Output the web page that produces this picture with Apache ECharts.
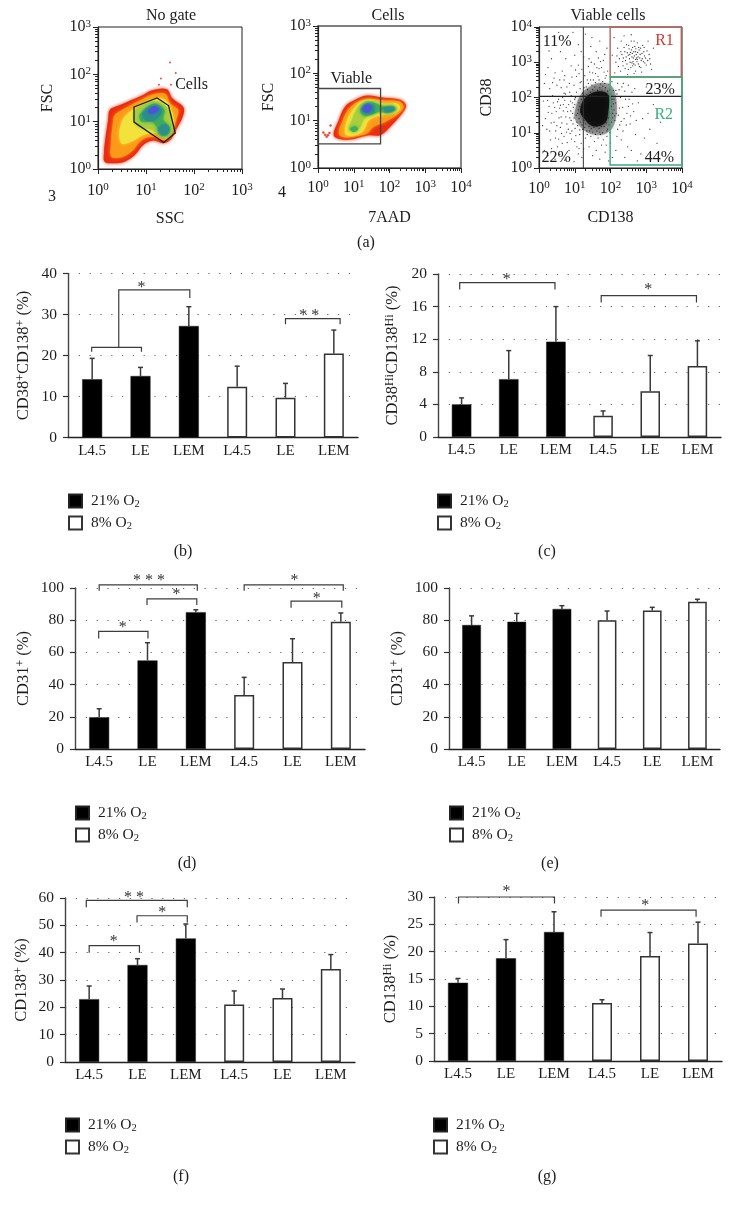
<!DOCTYPE html>
<html><head><meta charset="utf-8">
<style>html,body{margin:0;padding:0;background:#fff}#c{width:732px;height:1210px}</style>
<script src="https://cdn.jsdelivr.net/npm/echarts@6/dist/echarts.min.js"></script>
</head><body><div id="c"></div>
<script>
/* ---------- bar panels: values ---------- */
const categories = ['L4.5','LE','LEM','L4.5','LE','LEM'];
const o2Names = ['21% O2','8% O2'];

const bMean21=[14.2,15,27.2],   bMean8=[12.4,9.7,20.5],  bTop21=[19.3,17.1,31.9], bTop8=[17.4,13.2,26.2];
const cMean21=[4.0,7.1,11.7],   cMean8=[2.6,5.6,8.7],    cTop21=[4.8,10.6,16],    cTop8=[3.2,10,11.8];
const dMean21=[19.7,55,85],     dMean8=[33.5,54,79],     dTop21=[25,66,86.5],     dTop8=[44.5,68.5,84.5];
const eMean21=[77,79,87],       eMean8=[80,86,91.5],     eTop21=[82.7,84.2,89],   eTop8=[85.7,88,93];
const fMean21=[23,35.5,45.2],   fMean8=[21,23.4,34],     fTop21=[27.8,37.8,50.5], fTop8=[26,26.7,39.3];
const gMean21=[14.3,18.8,23.6], gMean8=[10.6,19.2,21.5], gTop21=[15.1,22.2,27.3], gTop8=[11.2,23.5,25.4];

/* significance brackets: paths in (band position, axis value) */
const bBrackets=[[[.49,20.9],[.49,22],[1.52,22],[1.52,20.9]],[[1.05,22],[1.05,36],[2.52,36],[2.52,34]],[[4.5,27.6],[4.5,29],[5.63,29],[5.63,27.6]]];
const bStars=[[1.52,37.3,'*'],[4.99,30.4,'* *']];
const cBrackets=[[[.46,18.1],[.46,18.94],[2.48,18.94],[2.48,18.1]],[[3.46,16.5],[3.46,17.35],[5.48,17.35],[5.48,16.5]]];
const cStars=[[1.46,19.6,'*'],[4.46,18.4,'*']];
const dBrackets=[[[.5,98.3],[.5,102],[2.53,102],[2.53,98.3]],[[1.49,89.4],[1.49,93.2],[2.52,93.2],[2.52,89.4]],[[.49,68.7],[.49,73.1],[1.51,73.1],[1.51,68.7]],[[3.5,98.3],[3.5,102],[5.55,102],[5.55,98.3]],[[4.47,87.8],[4.47,91.9],[5.52,91.9],[5.52,87.8]]];
const dStars=[[1.53,106.6,'* * *'],[2.1,97.7,'*'],[.99,77,'*'],[4.54,106.6,'*'],[5.0,95.2,'*']];
const fBrackets=[[[.44,56.6],[.44,59.1],[2.53,59.1],[2.53,56.6]],[[1.49,51],[1.49,53.5],[2.53,53.5],[2.53,51]],[[.5,40],[.5,42.6],[1.54,42.6],[1.54,40]]];
const fStars=[[1.43,61.1,'* *'],[2.01,55.6,'*'],[1.01,45,'*']];
const gBrackets=[[[.51,28.8],[.51,30],[2.51,30],[2.51,28.8]],[[3.48,26.4],[3.48,27.6],[5.46,27.6],[5.46,26.4]]];
const gStars=[[1.51,31.5,'*'],[4.4,28.9,'*']];

/* ---------- flow plots: outlines given as log10 of the axis values ---------- */
const ssc_red=[[.14,.155],[.126,.367],[.154,.649],[.21,1.037],[.244,1.249],[.419,1.334],[.628,1.426],[.907,1.546],[1.117,1.658],[1.431,1.687],[1.549,1.496],[1.78,1.306],[1.766,1.108],[1.605,.79],[1.521,.628],[1.361,.543],[1.151,.6],[.942,.508],[.768,.296],[.558,.155],[.349,.12]];
const ssc_orange=[[.28,.26],[.27,.54],[.31,.97],[.35,1.14],[.56,1.28],[.84,1.43],[1.12,1.57],[1.4,1.59],[1.5,1.39],[1.67,1.25],[1.64,1.07],[1.52,.76],[1.4,.61],[1.15,.68],[.91,.61],[.7,.37],[.49,.25]];
const ssc_yellow=[[.49,.54],[.45,.83],[.56,1.11],[.84,1.32],[1.15,1.48],[1.4,1.46],[1.55,1.18],[1.57,.9],[1.45,.67],[1.22,.76],[.94,.72],[.7,.58]];
const ssc_lime=[[.77,.97],[.78,1.25],[1.15,1.43],[1.43,1.31],[1.55,.97],[1.52,.72],[1.34,.67],[1.12,.83],[.91,.86]];
const ssc_green=[[.87,1.14],[1.15,1.38],[1.38,1.26],[1.36,1.04],[1.5,.86],[1.45,.72],[1.29,.72],[1.22,.9],[1.12,1.0],[.91,1.0]];
const ssc_tealA=[[.92,1.16],[1.15,1.33],[1.33,1.24],[1.22,1.05],[1.01,1.02]];
const ssc_tealB=[[1.26,.86],[1.4,.95],[1.49,.84],[1.4,.72],[1.29,.76]];
const ssc_blue=[[1.05,1.25],[1.19,1.33],[1.27,1.26],[1.17,1.18],[1.06,1.18]];
const ssc_gate=[[.75,1.31],[1.23,1.5],[1.47,1.34],[1.61,.76],[1.37,.56],[.75,.99]];
const ssc_stray=[[1.5,2.25],[1.62,2.03],[1.31,1.91],[1.52,1.78],[1.27,1.78]];

const aad_red=[[.44,.69],[.58,1.01],[.76,1.3],[1.04,1.44],[1.37,1.53],[1.79,1.49],[2.3,1.44],[2.46,1.32],[2.35,1.15],[2.02,.87],[1.74,.69],[1.42,.69],[1.04,.62],[.67,.6]];
const aad_orange=[[.58,.73],[.69,1.01],[.86,1.25],[1.09,1.39],[1.37,1.46],[1.79,1.43],[2.26,1.41],[2.4,1.3],[2.26,1.15],[1.88,.97],[1.56,.87],[1.37,.73],[1.04,.67],[.72,.65]];
const aad_yellow=[[.75,.76],[.81,1.01],[1,1.25],[1.18,1.39],[1.46,1.44],[1.84,1.36],[2.21,1.36],[2.3,1.27],[2.12,1.15],[1.74,1.11],[1.42,1.01],[1.28,.8],[1.04,.69],[.81,.69]];
const aad_lime=[[.86,.8],[.95,1.01],[1.09,1.25],[1.28,1.39],[1.51,1.41],[1.84,1.32],[2.14,1.31],[2.21,1.23],[1.98,1.16],[1.65,1.16],[1.32,1.06],[1.14,.83]];
const aad_green=[[1.18,1.22],[1.31,1.36],[1.56,1.38],[1.79,1.3],[2.11,1.3],[2.16,1.23],[1.93,1.16],[1.74,1.2],[1.51,1.13],[1.28,1.11]];
const aad_lump=[[.9,.83],[1.04,.88],[1.12,.82],[1,.76]];
const aad_tealA=[[1.23,1.25],[1.37,1.36],[1.56,1.32],[1.56,1.18],[1.32,1.15]];
const aad_tealB=[[1.81,1.27],[2.09,1.29],[2.14,1.23],[1.93,1.18]];
const aad_blue=[[1.25,1.27],[1.4,1.34],[1.51,1.27],[1.4,1.18],[1.28,1.2]];
const aad_gate=[[0,.51],[1.75,.51],[1.75,1.68],[0,1.68]];
const aad_stray=[[.2,.7],[.28,.69],[.35,.9],[.15,.75],[.24,.66],[.32,.74]];

const cd_core=[[1.29,1.99],[1.62,2.17],[1.94,2.08],[1.94,1.61],[1.85,1.28],[1.52,1.18],[1.29,1.37],[1.15,1.61]];
const cd_halo=[[1.01,1.65],[1.2,2.13],[1.66,2.41],[2.04,2.32],[2.18,1.75],[2.08,1.18],[1.8,.95],[1.38,.99],[1.01,1.37]];
const cd_R1=[[1.99,2.58],[3.98,2.58],[3.98,4],[1.99,4]];
const cd_R2=[[1.99,.085],[4,.085],[4,2.58],[1.99,2.58]];
const cd_vline=[[1.24,0],[1.24,4]];
const cd_hline=[[0,2.03],[4,2.03]];
const cd_dots=[
[2.1,3.7],[2.2,3.4],[2.25,3.1],[2.3,3.6],[2.35,2.9],[2.4,3.3],[2.42,3.05],[2.45,3.5],[2.5,2.8],[2.5,3.2],[2.52,3.38],[2.55,3.0],[2.58,3.6],[2.6,3.15],[2.62,2.9],[2.65,3.3],[2.68,3.45],[2.7,2.75],[2.7,3.08],[2.72,3.22],[2.75,3.55],[2.78,2.95],[2.8,3.35],[2.82,3.12],[2.85,2.85],[2.88,3.25],[2.9,3.48],[2.92,3.02],[2.95,3.18],[3.0,2.92],[3.02,3.32],[3.05,3.6],[3.1,3.1],[3.15,2.8],[2.15,3.0],[2.28,2.75],[2.38,3.75],[2.48,2.65],[2.58,3.78],[2.66,2.68],[3.2,3.4],[2.05,3.2],[2.12,2.7],[2.32,3.22],[2.44,3.15],[2.56,3.28],[2.64,3.12],[2.74,3.02],[2.84,3.4],[2.76,3.28],[2.62,3.42],[2.46,2.95],
[2.36,3.12],[2.41,2.82],[2.47,3.27],[2.53,3.1],[2.57,2.85],[2.59,3.35],[2.63,3.02],[2.67,3.18],[2.69,2.92],[2.71,3.38],[2.73,3.12],[2.77,3.15],[2.79,3.42],[2.81,2.88],[2.83,3.22],[2.86,3.05],[2.89,3.1],[2.93,3.3],[2.96,2.98],[2.98,3.12],[2.51,3.48],[2.6,2.98],[2.66,3.6],[2.54,3.22],[2.38,3.42],[2.34,3.02],[2.29,3.3],[2.22,2.88],[2.18,3.18],[3.08,3.22],[3.12,2.95],[3.04,3.05],[2.87,2.72],[2.94,3.42],[2.61,3.25],[2.7,3.3],[2.75,3.08],[2.65,2.95],
[.2,3.6],[.35,3.1],[.45,2.7],[.6,3.3],[.7,2.5],[.8,3.7],[.9,2.9],[1.0,3.2],[1.05,2.6],[1.1,3.5],[1.2,2.8],[1.3,3.8],[1.35,2.5],[1.4,3.1],[1.45,3.45],[1.5,2.7],[1.55,2.95],[1.6,3.3],[1.65,2.6],[1.7,3.6],[1.75,2.85],[1.8,3.05],[1.85,2.55],[1.9,3.4],[1.92,2.75],[.15,2.4],[.25,2.85],[.5,2.35],[.65,2.75],[.85,2.4],[.95,3.85],[1.15,2.42],[1.25,3.15],[1.52,2.5],[1.62,2.85],[1.78,2.45],[1.88,2.62],[.3,2.25],[.55,3.85],[1.48,3.7],
[.42,2.55],[.58,2.5],[.72,2.62],[.78,2.3],[.92,2.58],[1.02,2.78],[1.12,2.68],[1.28,2.62],[1.42,2.72],[1.58,2.68],[1.68,2.82],[1.72,3.02],[1.82,2.72],[.18,2.65],[.38,2.42],[.62,2.28],[.98,2.35],[1.1,2.92],[1.38,2.88],[1.46,3.0],[1.66,3.12],[1.84,3.22],[.28,3.32],[.75,3.1],[1.18,3.3],
[.12,1.9],[.18,1.4],[.22,1.1],[.28,1.75],[.32,.8],[.38,2.05],[.42,1.3],[.48,1.6],[.52,.6],[.55,1.95],[.6,1.15],[.62,1.45],[.68,1.8],[.7,.9],[.74,2.1],[.78,1.25],[.8,1.6],[.84,.5],[.88,1.9],[.9,1.35],[.92,1.05],[.96,1.72],[1.0,.75],[1.02,2.0],[1.04,1.5],[1.08,1.2],[1.1,.4],[1.12,1.85],[1.14,.95],[.15,.5],[.25,.35],[.35,.55],[.45,.25],[.58,.38],[.72,.22],[.85,.3],[.98,.18],[1.12,.55],[.3,1.05],[.4,1.85],[.65,.7],[.75,1.45],[.82,1.1],[.94,1.55],[1.06,.6],[1.16,1.3],[.5,1.2],[.36,1.55],[.58,1.7],[.66,2.0],[.86,2.15],[1.18,.7],[.1,1.2],
[.44,1.72],[.52,1.88],[.56,1.42],[.64,1.28],[.68,1.62],[.72,1.92],[.76,1.72],[.83,1.8],[.86,1.42],[.89,1.62],[.93,1.85],[.95,1.25],[.98,1.42],[1.0,1.95],[1.01,1.12],[.87,.98],[.77,1.02],[.63,.98],[.47,1.05],[.34,1.28],[.26,1.58],[.24,1.92],[.46,.85],[.55,.82],[.79,.72],[.91,.82],[1.03,.92],[.7,2.12],[.9,2.05],[.6,1.78],
[2.2,1.1],[2.25,1.7],[2.3,.8],[2.32,2.3],[2.38,1.4],[2.42,1.95],[2.48,.6],[2.55,1.25],[2.6,2.15],[2.65,1.6],[2.7,.95],[2.78,1.85],[2.85,.4],[2.9,1.4],[3.0,2.3],[3.1,1.1],[3.2,1.8],[3.3,.7],[2.15,.5],[2.05,.3],[2.4,.3],[2.75,.2],[2.1,1.95],[2.2,2.4],[2.35,1.05],[2.5,1.75],[2.58,.5],[2.95,.85],[3.05,1.55],[3.4,1.3],[2.28,2.0],[2.18,.9],[2.12,1.35],
[2.24,2.22],[2.34,1.72],[2.4,2.18],[2.46,1.55],[2.52,1.95],[2.56,1.48],[2.62,1.82],[2.68,2.25],[2.72,1.35],[2.16,1.55],[2.3,1.32],[2.36,2.4],[2.26,1.22],[2.44,1.22],[2.5,2.35],
[1.3,.85],[1.4,.6],[1.45,.9],[1.5,.35],[1.55,.75],[1.6,.5],[1.65,.85],[1.7,.25],[1.75,.65],[1.8,.8],[1.85,.45],[1.9,.9],[1.95,.2],[2.0,.7],[1.35,.95],[1.25,.55],[1.2,.3],[1.58,.95],[1.88,.65],[1.72,.95],
[1.0,1.8],[1.05,2.15],[1.1,1.65],[1.15,2.25],[1.18,2.45],[1.22,1.1],[1.25,2.05],[1.28,1.15],[1.32,2.3],[1.38,2.4],[1.42,1.05],[1.44,2.5],[1.58,2.42],[1.62,1.05],[1.68,2.5],[1.72,2.38],[1.78,1.0],[1.84,2.4],[1.92,1.1],[1.96,2.38],[2.02,1.3],[2.04,2.45],[2.06,1.55],[2.08,2.2],[2.1,1.65],[2.14,1.85],[2.18,2.1],[2.22,1.5],[1.98,1.0],[2.0,2.52],
[1.08,1.55],[1.12,1.4],[1.14,1.75],[1.18,1.95],[1.2,1.22],[1.22,2.12],[1.24,1.6],[1.26,1.35],[1.3,1.25],[1.34,2.08],[1.36,2.22],[1.4,1.18],[1.44,2.15],[1.46,1.12],[1.5,2.22],[1.54,1.15],[1.56,2.3],[1.6,1.18],[1.64,2.2],[1.68,1.12],[1.7,2.28],[1.74,1.18],[1.76,2.18],[1.82,1.18],[1.86,2.28],[1.88,1.28],[1.92,2.18],[1.94,1.42],[1.97,1.9],[1.99,1.55],[2.0,2.1],[2.02,1.75],[2.04,1.95],[2.06,1.42],[2.08,1.82],[1.96,1.22],[1.9,1.05],[1.7,1.02],[1.5,1.02],[1.34,1.05],[1.14,1.08],[1.06,1.3],[1.16,1.58],[1.28,1.82],[1.98,2.22],[1.78,2.32],[1.48,2.35],[1.26,2.28],[2.12,1.48],[2.15,2.2]
];

/* ---------- text ---------- */
const panelCaptions=[['(a)',366,243],['(b)',183,552],['(c)',547,552],['(d)',187,864],['(e)',550,864],['(f)',181,1177],['(g)',547,1177]];
const flowTitles=[['No gate',171,16],['Cells',388,16],['Viable cells',608,16]];
const strayMarks=[['3',52,197],['4',282,193]];

/* ---------- assembly ---------- */
const SERIF='"Liberation Serif","Times New Roman",serif', INK='#1c1c1c';
const grids=[],xAxes=[],yAxes=[],series=[],legends=[],titles=[];
const supRich={s:{fontFamily:SERIF,fontSize:11,color:INK,verticalAlign:'top',lineHeight:17,padding:[0,0,7,0]},n:{fontFamily:SERIF,fontSize:16,color:INK,lineHeight:17}};

function barPanel(o){
  const gi=grids.length, xi=xAxes.length, yi=yAxes.length;
  grids.push({left:o.left,top:o.top,width:o.w,height:o.h});
  xAxes.push({type:'category',gridIndex:gi,data:categories,axisTick:{show:false},
    axisLine:{lineStyle:{color:'#222',width:1.4}},
    axisLabel:{fontFamily:SERIF,fontSize:15,color:INK,margin:6,interval:0},splitLine:{show:false}});
  xAxes.push({type:'value',gridIndex:gi,min:0,max:6,show:false});
  yAxes.push({type:'value',gridIndex:gi,min:0,max:o.max,interval:o.step,
    name:o.name,nameLocation:'middle',nameGap:o.gap,nameRotate:90,
    nameTextStyle:{fontFamily:SERIF,fontSize:16.5,color:INK,rich:{s:{fontFamily:SERIF,fontSize:12,color:INK,verticalAlign:'top',lineHeight:18}}},
    axisLine:{show:true,lineStyle:{color:'#444',width:1.4}},
    axisTick:{show:true,length:5,lineStyle:{color:'#333',width:1.2}},
    axisLabel:{fontFamily:SERIF,fontSize:15.5,color:INK,margin:11},
    splitLine:{show:true,lineStyle:{color:'#666',width:1.2,type:[1.2,9.6]}}});
  const pad=(a,first)=>first?[...a,null,null,null]:[null,null,null,...a];
  series.push({type:'bar',name:o2Names[0],xAxisIndex:xi,yAxisIndex:yi,data:pad(o.m21,true),barWidth:o.bar,barGap:'-100%',
    itemStyle:{color:'#000',borderColor:'#222',borderWidth:.5},z:2});
  series.push({type:'bar',name:o2Names[1],xAxisIndex:xi,yAxisIndex:yi,data:pad(o.m8,false),barWidth:o.bar,barGap:'-100%',
    itemStyle:{color:'#fff',borderColor:'#333',borderWidth:1.5},z:2});
  const errs=[];
  o.m21.forEach((v,i)=>errs.push([i,o.t21[i],v]));
  o.m8.forEach((v,i)=>errs.push([i+3,o.t8[i],v]));
  series.push({type:'custom',xAxisIndex:xi,yAxisIndex:yi,z:3,silent:true,data:errs,encode:{x:0,y:[1,2]},
    renderItem(p,api){
      const a=api.coord([api.value(0),api.value(1)]),b=api.coord([api.value(0),api.value(2)]);
      const st={stroke:'#3a3a3a',lineWidth:1.5,fill:'none'};
      return {type:'group',children:[
        {type:'line',shape:{x1:a[0],y1:a[1],x2:b[0],y2:b[1]},style:st},
        {type:'line',shape:{x1:a[0]-2.5,y1:a[1],x2:a[0]+2.5,y2:a[1]},style:st}]};
    }});
  if(o.br){
    series.push({type:'custom',xAxisIndex:xi+1,yAxisIndex:yi,z:4,silent:true,clip:false,data:o.br.map(b=>b[1]),encode:{x:0,y:1},
      renderItem(p,api){
        const pts=o.br[p.dataIndex].map(q=>api.coord(q));
        return {type:'polyline',shape:{points:pts},style:{stroke:'#3c3c3c',lineWidth:1.2,fill:'none'}};
      }});
    series.push({type:'custom',xAxisIndex:xi+1,yAxisIndex:yi,z:4,silent:true,clip:false,data:o.st.map(s=>[s[0],s[1]]),encode:{x:0,y:1},
      renderItem(p,api){
        const s=o.st[p.dataIndex],c=api.coord([s[0],s[1]]);
        return {type:'text',x:c[0],y:c[1]+3,style:{text:s[2],font:'16px '+SERIF,fill:'#333',align:'center',verticalAlign:'middle'}};
      }});
  }
  legends.push({data:o2Names,left:o.left0,top:o.ltop,padding:0,orient:'vertical',itemWidth:13,itemHeight:13,itemGap:5,selectedMode:false,icon:'rect',
    formatter:n=>n.replace('O2','O{u|2}'),
    textStyle:{fontFamily:SERIF,fontSize:15.5,color:INK,padding:[0,0,0,4],rich:{u:{fontFamily:SERIF,fontSize:10.5,color:INK,verticalAlign:'bottom',lineHeight:18}}}});
}

const logFmt=v=>'{n|10}{s|'+Math.round(Math.log10(v))+'}';
const P=q=>[Math.pow(10,q[0]),Math.pow(10,q[1])];
function flowPanel(o){
  const gi=grids.length,xi=xAxes.length,yi=yAxes.length;
  grids.push({left:o.left,top:o.top,width:o.w,height:o.h,show:true,borderColor:o.frame||'#222',borderWidth:o.frameW||1,backgroundColor:'#fff'});
  const ax=(max,name,gap,rot,margin)=>({type:'log',logBase:10,gridIndex:gi,min:1,max:max,
    name:name,nameLocation:'middle',nameGap:gap,nameRotate:rot,
    nameTextStyle:{fontFamily:SERIF,fontSize:16,color:INK},
    axisLine:{show:true,lineStyle:{color:'#222',width:1.2}},
    axisTick:{show:true,length:5,lineStyle:{color:'#222',width:1}},
    minorTick:{show:true,length:3,splitNumber:9,lineStyle:{color:'#222',width:1}},
    splitLine:{show:false},minorSplitLine:{show:false},
    axisLabel:{formatter:logFmt,rich:supRich,margin:margin}});
  xAxes.push(ax(o.xmax,o.xname,o.xgap,0,o.xm)); yAxes.push(ax(o.ymax,o.yname,o.ygap,90,7));
  const base={xAxisIndex:xi,yAxisIndex:yi,silent:true};
  if(o.fills){
    series.push({...base,type:'custom',z:2,data:o.fills.map(f=>P(f[0][0])),encode:{x:0,y:1},renderItem(p,api){
      const f=o.fills[p.dataIndex];
      return {type:'polygon',shape:{points:f[0].map(q=>api.coord(P(q))),smooth:.35},style:{fill:f[1],shadowBlur:f[2]||3.5,shadowColor:f[1]}};
    }});
  }
  if(o.dots) series.push({...base,type:'scatter',z:3,symbolSize:o.dotSize,data:o.dots.map(P),itemStyle:{color:o.dotColor,opacity:.85}});
  if(o.lines){
    series.push({...base,type:'custom',z:4,data:o.lines.map(l=>P(l[0][0])),encode:{x:0,y:1},renderItem(p,api){
      const l=o.lines[p.dataIndex],pts=l[0].map(q=>api.coord(P(q)));
      return l[3]?{type:'polygon',shape:{points:pts},style:{fill:'none',stroke:l[1],lineWidth:l[2]}}
                 :{type:'polyline',shape:{points:pts},style:{fill:'none',stroke:l[1],lineWidth:l[2]}};
    }});
  }
  if(o.notes){
    series.push({...base,type:'custom',z:5,data:o.notes.map(n=>P([n[1],n[2]])),encode:{x:0,y:1},renderItem(p,api){
      const n=o.notes[p.dataIndex],c=api.coord(P([n[1],n[2]]));
      return {type:'text',x:c[0],y:c[1],style:{text:n[0],font:'16px '+SERIF,fill:n[3]||INK,align:'center',verticalAlign:'middle'}};
    }});
  }
}

const RED='#ea2d10',ORG='#fb9a18',YEL='#f4e23c',LIM='#a9cf3e',GRN='#3fae5c',TEA='#2c8f8a',BLU='#4a55d8';
flowPanel({left:98,top:27,w:144,h:142,xmax:1000,ymax:1000,xname:'SSC',yname:'FSC',xgap:42,ygap:42,xm:13,
  fills:[[ssc_red,RED],[ssc_orange,ORG],[ssc_yellow,YEL],[ssc_lime,LIM],[ssc_green,GRN],[ssc_tealA,TEA],[ssc_tealB,TEA],[ssc_blue,BLU]],
  dots:ssc_stray,dotSize:2,dotColor:RED,
  lines:[[ssc_gate,'#1a1a1a',1.3,true]],
  notes:[['Cells',1.95,1.78]]});
flowPanel({left:318,top:26,w:143,h:142,xmax:10000,ymax:1000,xname:'7AAD',yname:'FSC',xgap:42,ygap:41,xm:11,frame:'#555',frameW:1.4,
  fills:[[aad_red,RED],[aad_orange,ORG],[aad_yellow,YEL],[aad_lime,LIM],[aad_green,GRN],[aad_lump,GRN],[aad_tealA,TEA],[aad_tealB,TEA],[aad_blue,BLU]],
  dots:aad_stray,dotSize:2.5,dotColor:RED,
  lines:[[aad_gate,'#444',1.3,true]],
  notes:[['Viable',.93,1.89]]});
flowPanel({left:539,top:27,w:143,h:141,xmax:10000,ymax:10000,xname:'CD138',yname:'CD38',xgap:42,ygap:44,xm:12,
  fills:[[cd_halo,'rgba(40,40,40,.42)',6],[cd_core,'rgba(8,8,8,.86)',7]],
  dots:cd_dots,dotSize:1.3,dotColor:'#1a1a1a',
  lines:[[cd_vline,'#333',1],[cd_hline,'#222',1.2],[cd_R1,'#b5645c',1.4,true],[cd_R2,'#3aaa78',1.4,true]],
  notes:[['11%',.51,3.59],['R1',3.51,3.62,'#d8342c'],['23%',3.39,2.22],['R2',3.49,1.51,'#35b07a'],['22%',.48,.28],['44%',3.37,.28]]});

barPanel({left:68,top:273.5,w:290,h:164,max:40,step:10,bar:20,gap:35,name:'CD38{s|+}CD138{s|+} (%)',m21:bMean21,m8:bMean8,t21:bTop21,t8:bTop8,br:bBrackets,st:bStars,left0:68,ltop:493});
barPanel({left:438,top:274,w:283,h:163,max:20,step:4,bar:19.5,gap:36,name:'CD38{s|Hi}CD138{s|Hi} (%)',m21:cMean21,m8:cMean8,t21:cTop21,t8:cTop8,br:cBrackets,st:cStars,left0:437,ltop:493});
barPanel({left:75,top:588,w:290,h:161,max:100,step:20,bar:20,gap:42,name:'CD31{s|+} (%)',m21:dMean21,m8:dMean8,t21:dTop21,t8:dTop8,br:dBrackets,st:dStars,left0:75,ltop:805});
barPanel({left:449,top:588,w:271,h:161,max:100,step:20,bar:18.7,gap:42,name:'CD31{s|+} (%)',m21:eMean21,m8:eMean8,t21:eTop21,t8:eTop8,left0:449,ltop:805});
barPanel({left:65,top:898,w:290,h:164,max:60,step:10,bar:20,gap:34,name:'CD138{s|+} (%)',m21:fMean21,m8:fMean8,t21:fTop21,t8:fTop8,br:fBrackets,st:fStars,left0:65,ltop:1117});
barPanel({left:434,top:897,w:288,h:164,max:30,step:5,bar:20,gap:34,name:'CD138{s|Hi} (%)',m21:gMean21,m8:gMean8,t21:gTop21,t8:gTop8,br:gBrackets,st:gStars,left0:433,ltop:1117});

[...panelCaptions,...flowTitles,...strayMarks].forEach(t=>titles.push({text:t[0],left:t[1],top:t[2],textAlign:'center',textVerticalAlign:'middle',padding:0,
  textStyle:{fontFamily:SERIF,fontSize:16,fontWeight:'normal',color:INK}}));

const chart=echarts.init(document.getElementById('c'),null,{renderer:'canvas'});
chart.setOption({animation:false,backgroundColor:'#fff',title:titles,legend:legends,grid:grids,xAxis:xAxes,yAxis:yAxes,series:series,tooltip:{show:false}});
</script></body></html>
